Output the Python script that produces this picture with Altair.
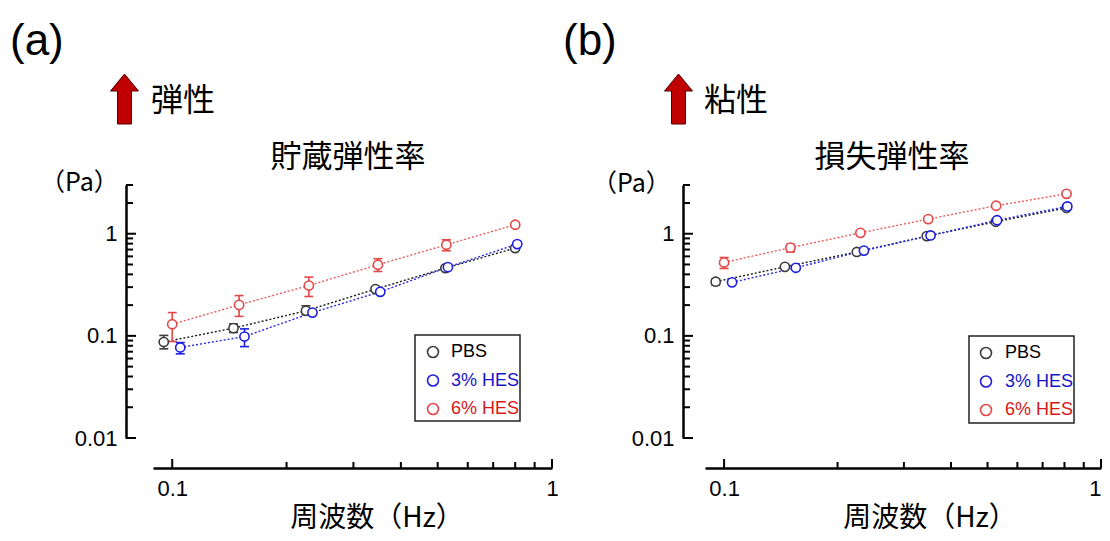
import altair as alt
import pandas as pd

SERIES = ["PBS", "3% HES", "6% HES"]
POINT_COLORS = ["#3c3c3c", "#1e1ee0", "#e34848"]
LINE_COLORS = ["#1a1a1a", "#2626e6", "#ea5c5c"]
LEGEND_TEXT_COLORS = ["#000000", "#1616c8", "#d81818"]

# ---- (a) storage modulus (Pa) ----
a_freq_pbs = [0.095, 0.145, 0.225, 0.343, 0.524, 0.80]
a_freq_h3 = [0.105, 0.155, 0.234, 0.353, 0.532, 0.81]
a_freq_h6 = [0.100, 0.150, 0.229, 0.348, 0.527, 0.80]
a_pbs = [0.087, 0.119, 0.176, 0.287, 0.461, 0.724]
a_h3 = [0.077, 0.0985, 0.169, 0.270, 0.471, 0.792]
a_h6 = [0.130, 0.201, 0.311, 0.497, 0.780, 1.225]
a_pbs_lo = [0.0746, 0.108, 0.161, 0.280, 0.452, 0.710]
a_pbs_hi = [0.101, 0.131, 0.197, 0.295, 0.470, 0.740]
a_h3_lo = [0.0667, 0.0785, 0.163, 0.265, 0.462, 0.780]
a_h3_hi = [0.086, 0.117, 0.175, 0.276, 0.480, 0.805]
a_h6_lo = [0.088, 0.155, 0.243, 0.427, 0.681, 1.200]
a_h6_hi = [0.169, 0.248, 0.376, 0.569, 0.873, 1.250]

# ---- (b) loss modulus (Pa) ----
b_freq_pbs = [0.095, 0.145, 0.225, 0.345, 0.526, 0.81]
b_freq_h3 = [0.105, 0.155, 0.235, 0.353, 0.530, 0.814]
b_freq_h6 = [0.100, 0.150, 0.230, 0.348, 0.527, 0.81]
b_pbs = [0.339, 0.474, 0.663, 0.948, 1.31, 1.79]
b_h3 = [0.334, 0.464, 0.684, 0.962, 1.355, 1.85]
b_h6 = [0.523, 0.731, 1.02, 1.39, 1.88, 2.46]
b_pbs_lo = [0.315, 0.465, 0.650, 0.935, 1.29, 1.76]
b_pbs_hi = [0.360, 0.484, 0.676, 0.960, 1.33, 1.82]
b_h3_lo = [0.330, 0.455, 0.675, 0.950, 1.34, 1.82]
b_h3_hi = [0.338, 0.473, 0.693, 0.975, 1.37, 1.88]
b_h6_lo = [0.457, 0.663, 1.00, 1.37, 1.85, 2.42]
b_h6_hi = [0.585, 0.787, 1.04, 1.41, 1.91, 2.50]

Y_MAJOR = [0.01, 0.1, 1]
Y_MINOR = [0.02, 0.03, 0.04, 0.05, 0.06, 0.07, 0.08, 0.09,
           0.2, 0.3, 0.4, 0.5, 0.6, 0.7, 0.8, 0.9, 2, 3]
X_MAJOR = [0.1, 1]
X_MINOR = [0.2, 0.3, 0.4, 0.5, 0.6, 0.7, 0.8, 0.9]
X_DOMAIN = [0.089, 1]
Y_DOMAIN = [0.01, 3]

H = 253
X_OFF = 30
CJK = "Noto Sans CJK JP"
LAT = "Liberation Sans"
ARROW = "M0,-1 L0.56,-0.32 L0.28,-0.32 L0.28,1 L-0.28,1 L-0.28,-0.32 L-0.56,-0.32 Z"


def build_df(freqs, vals, los, his):
    rows = []
    for s, f, v, lo, hi in zip(SERIES, freqs, vals, los, his):
        for i in range(len(f)):
            rows.append({"series": s, "f": f[i], "g": v[i], "lo": lo[i], "hi": hi[i]})
    return pd.DataFrame(rows)


def text(t, x, y, size, font=CJK, align="left", color="black", baseline="middle"):
    return alt.Chart(pd.DataFrame({"t": [t]})).mark_text(
        text=t, font=font, fontSize=size, align=align, baseline=baseline, color=color
    ).encode(x=alt.value(x), y=alt.value(y))


def panel(df, W, y_off, flush, label, label_x, arrow_x, word, word_x, title, title_x,
          pa_x, pa_y, xt_x, leg):
    xs = alt.Scale(type="log", domain=X_DOMAIN, nice=False)
    ys = alt.Scale(type="log", domain=Y_DOMAIN, nice=False)
    xaxis = alt.Axis(values=X_MAJOR, format="~g", ticks=False, grid=False, offset=X_OFF,
                     domainWidth=2.5, domainColor="black", labelFontSize=22, labelFont=LAT,
                     labelColor="black", labelPadding=10, title="", labelFlush=flush)
    yaxis = alt.Axis(values=Y_MAJOR, format="~g", ticks=False, grid=False, offset=y_off,
                     domainWidth=2.5, domainColor="black", labelFontSize=22, labelFont=LAT,
                     labelColor="black", labelPadding=9, title="", labelFlush=False)
    X = alt.X("f:Q", scale=xs, axis=xaxis)
    Y = alt.Y("g:Q", scale=ys, axis=yaxis)
    pcol = alt.Color("series:N", scale=alt.Scale(domain=SERIES, range=POINT_COLORS), legend=None)
    lcol = alt.Stroke("series:N", scale=alt.Scale(domain=SERIES, range=LINE_COLORS), legend=None)
    base = alt.Chart(df)

    lines = base.mark_line(strokeDash=[2, 2], strokeWidth=1.4, opacity=1).encode(
        x=X, y=Y, stroke=lcol, order="f:Q")
    err = base.mark_rule(strokeWidth=1.6, opacity=1).encode(
        x=X, y=alt.Y("lo:Q", scale=ys, axis=yaxis), y2="hi:Q", color=pcol)
    cap_lo = base.mark_tick(orient="horizontal", size=9, thickness=1.6, opacity=1).encode(
        x=X, y=alt.Y("lo:Q", scale=ys, axis=yaxis), color=pcol)
    cap_hi = base.mark_tick(orient="horizontal", size=9, thickness=1.6, opacity=1).encode(
        x=X, y=alt.Y("hi:Q", scale=ys, axis=yaxis), color=pcol)
    pts = base.mark_point(shape="circle", filled=False, fill="white", size=85,
                          strokeWidth=1.6, opacity=1).encode(x=X, y=Y, color=pcol)

    ymaj = alt.Chart(pd.DataFrame({"g": Y_MAJOR})).mark_rule(color="black", strokeWidth=2).encode(
        y=Y, x=alt.value(-y_off), x2=alt.value(-y_off + 10))
    ymin = alt.Chart(pd.DataFrame({"g": Y_MINOR})).mark_rule(color="black", strokeWidth=2).encode(
        y=Y, x=alt.value(-y_off), x2=alt.value(-y_off + 7))
    xmaj = alt.Chart(pd.DataFrame({"f": X_MAJOR})).mark_rule(color="black", strokeWidth=2).encode(
        x=X, y=alt.value(H + X_OFF), y2=alt.value(H + X_OFF - 9))
    xmin = alt.Chart(pd.DataFrame({"f": X_MINOR})).mark_rule(color="black", strokeWidth=2).encode(
        x=X, y=alt.value(H + X_OFF), y2=alt.value(H + X_OFF - 6))

    arrow = alt.Chart(pd.DataFrame({"a": [0]})).mark_point(
        shape=ARROW, filled=True, fill="#c00000", stroke="#500000", strokeWidth=1,
        size=2500, opacity=1).encode(x=alt.value(arrow_x), y=alt.value(-86))

    lx0, lx1, ly0, ly1, sym_x, txt_x = leg
    legend_layers = [alt.Chart(pd.DataFrame({"a": [0]})).mark_rect(
        fill="white", stroke="#222222", strokeWidth=1.5).encode(
        x=alt.value(lx0), x2=alt.value(lx1), y=alt.value(ly0), y2=alt.value(ly1))]
    for i, s in enumerate(SERIES):
        yy = ly0 + 17 + i * 28.5
        legend_layers.append(alt.Chart(pd.DataFrame({"a": [0]})).mark_point(
            shape="circle", filled=False, size=120, strokeWidth=1.6, opacity=1,
            color=POINT_COLORS[i]).encode(x=alt.value(sym_x), y=alt.value(yy)))
        legend_layers.append(text(s, txt_x, yy, 18, font=LAT, color=LEGEND_TEXT_COLORS[i]))

    annots = [
        text(label, label_x, -130, 44, font=LAT, baseline="alphabetic"),
        arrow,
        text(word, word_x, -84, 32),
        text(title, title_x, -27, 31, align="center"),
        text("（Pa）", pa_x, pa_y, 25),
        text("周波数（Hz）", xt_x, 333.5, 28, align="center"),
    ]
    return alt.layer(lines, err, cap_lo, cap_hi, pts, ymaj, ymin, xmaj, xmin,
                     *legend_layers, *annots).properties(width=W, height=H)


df_a = build_df([a_freq_pbs, a_freq_h3, a_freq_h6], [a_pbs, a_h3, a_h6],
                [a_pbs_lo, a_h3_lo, a_h6_lo], [a_pbs_hi, a_h3_hi, a_h6_hi])
df_b = build_df([b_freq_pbs, b_freq_h3, b_freq_h6], [b_pbs, b_h3, b_h6],
                [b_pbs_lo, b_h3_lo, b_h6_lo], [b_pbs_hi, b_h3_hi, b_h6_hi])

pa = panel(df_a, 399, 27, False, "(a)", -143, -28.5, "弾性", -2, "貯蔵弾性率", 195,
           -113, -2, 224, (262, 367, 150, 236, 280, 298))
pb = panel(df_b, 396, 22, 1, "(b)", -142, -26.5, "粘性", -1, "損失弾性率", 187,
           -113, -1, 225, (264, 369, 151, 238, 281, 300))

chart = alt.hconcat(pa, pb, spacing=4).properties(
    padding={"left": 2, "top": 12, "right": 0, "bottom": 0}
).configure_view(strokeWidth=0)

chart.save("out.html", embed_options={"renderer": "svg", "actions": False})
